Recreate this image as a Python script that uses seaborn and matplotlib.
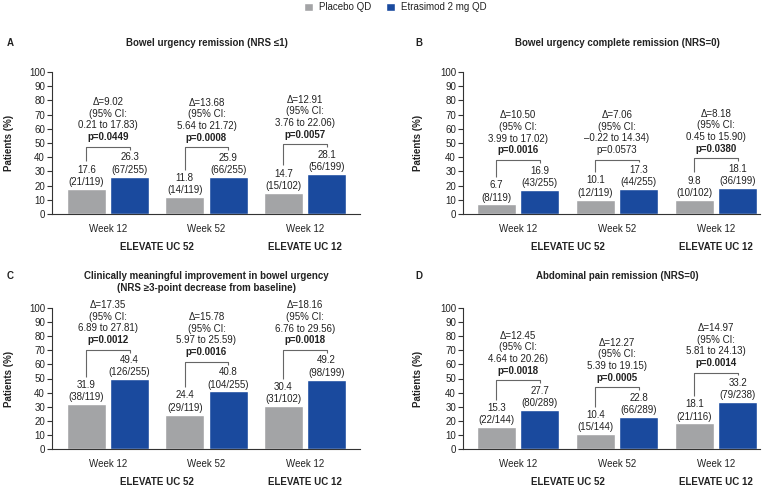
import pandas as pd
import matplotlib
matplotlib.use("Agg")
import matplotlib.pyplot as plt
from matplotlib.patches import Patch
import seaborn as sns

# categories
visits = ["Week 12", "Week 52", "Week 12"]
slots = ["UC52 W12", "UC52 W52", "UC12 W12"]
studies = ["ELEVATE UC 52", "ELEVATE UC 12"]
study_x = [0.5, 2.0]
arms = ["Placebo QD", "Etrasimod 2 mg QD"]
letters = ["A", "B", "C", "D"]
titles = [
    "Bowel urgency remission (NRS \u22641)",
    "Bowel urgency complete remission (NRS=0)",
    "Clinically meaningful improvement in bowel urgency\n(NRS \u22653-point decrease from baseline)",
    "Abdominal pain remission (NRS=0)",
]

# A
placebo_a = [17.6, 11.8, 14.7]
placebo_a_n = ["21/119", "14/119", "15/102"]
etra_a = [26.3, 25.9, 28.1]
etra_a_n = ["67/255", "66/255", "56/199"]
delta_a = ["9.02", "13.68", "12.91"]
ci_a = ["0.21 to 17.83", "5.64 to 21.72", "3.76 to 22.06"]
p_a = ["0.0449", "0.0008", "0.0057"]

# B
placebo_b = [6.7, 10.1, 9.8]
placebo_b_n = ["8/119", "12/119", "10/102"]
etra_b = [16.9, 17.3, 18.1]
etra_b_n = ["43/255", "44/255", "36/199"]
delta_b = ["10.50", "7.06", "8.18"]
ci_b = ["3.99 to 17.02", "\u20130.22 to 14.34", "0.45 to 15.90"]
p_b = ["0.0016", "0.0573", "0.0380"]

# C
placebo_c = [31.9, 24.4, 30.4]
placebo_c_n = ["38/119", "29/119", "31/102"]
etra_c = [49.4, 40.8, 49.2]
etra_c_n = ["126/255", "104/255", "98/199"]
delta_c = ["17.35", "15.78", "18.16"]
ci_c = ["6.89 to 27.81", "5.97 to 25.59", "6.76 to 29.56"]
p_c = ["0.0012", "0.0016", "0.0018"]

# D
placebo_d = [15.3, 10.4, 18.1]
placebo_d_n = ["22/144", "15/144", "21/116"]
etra_d = [27.7, 22.8, 33.2]
etra_d_n = ["80/289", "66/289", "79/238"]
delta_d = ["12.45", "12.27", "14.97"]
ci_d = ["4.64 to 20.26", "5.39 to 19.15", "5.81 to 24.13"]
p_d = ["0.0018", "0.0005", "0.0014"]

panels = [
    (placebo_a, placebo_a_n, etra_a, etra_a_n, delta_a, ci_a, p_a),
    (placebo_b, placebo_b_n, etra_b, etra_b_n, delta_b, ci_b, p_b),
    (placebo_c, placebo_c_n, etra_c, etra_c_n, delta_c, ci_c, p_c),
    (placebo_d, placebo_d_n, etra_d, etra_d_n, delta_d, ci_d, p_d),
]

GRAY = "#a3a4a6"
BLUE = "#1a4a9e"
TXT = "#222222"
AX = "#333333"

sns.set_style("white")
plt.rcParams["font.family"] = ["Liberation Sans", "DejaVu Sans"]
plt.rcParams["font.size"] = 7

W, H = 772, 488
fig = plt.figure(figsize=(W / 100, H / 100), dpi=100)

# axes boxes in pixels: left, right, top, bottom
boxes = [(52, 360, 72, 214), (463, 760, 72, 214), (52, 360, 308, 449), (463, 760, 308, 449)]
xlims = [(-0.569, 2.56), (-0.556, 2.444), (-0.569, 2.56), (-0.556, 2.444)]
title_y = [43, 43, 282, 276]
letter_y = [43, 43, 276, 276]
ylab_x = [14, 423, 14, 423]
letter_x = [7, 415, 7, 415]

for k, (pl, pl_n, et, et_n, dl, ci, pv) in enumerate(panels):
    l, r, t, b = boxes[k]
    ax = fig.add_axes([l / W, 1 - b / H, (r - l) / W, (b - t) / H])
    df = pd.DataFrame({
        "slot": slots * 2,
        "arm": [arms[0]] * 3 + [arms[1]] * 3,
        "value": pl + et,
    })
    sns.barplot(data=df, x="slot", y="value", hue="arm", order=slots, hue_order=arms,
                palette=[GRAY, BLUE], saturation=1, width=0.88, gap=0.1,
                errorbar=None, legend=False, ax=ax)
    ax.set_xlim(*xlims[k])
    ax.set_ylim(0, 100)
    ax.set_yticks(range(0, 101, 10))
    ax.set_xticks(range(3))
    ax.set_xticklabels(visits)
    ax.set_xlabel("")
    ax.set_ylabel("Patients (%)", fontsize=7, fontweight="bold", color=TXT)
    ax.yaxis.set_label_coords((ylab_x[k] - l) / (r - l), 0.5)
    ax.tick_params(axis="x", length=0, pad=7, labelsize=7, labelcolor=TXT)
    ax.tick_params(axis="y", length=3.5, width=0.8, pad=1.5, labelsize=7,
                   labelcolor=TXT, color=AX, left=True)
    sns.despine(ax=ax)
    for s in ["left", "bottom"]:
        ax.spines[s].set_color(AX)
        ax.spines[s].set_linewidth(0.8)

    # study labels under the weeks
    for name, sx in zip(studies, study_x):
        ax.annotate(name, (sx, 0), xycoords=("data", "axes fraction"),
                    xytext=(0, -24), textcoords="offset points",
                    ha="center", va="center", fontsize=7, fontweight="bold", color=TXT)

    # value labels over bars
    centers = []
    for bars, vals, ns in zip(ax.containers, [pl, et], [pl_n, et_n]):
        cx = []
        for bar, v, n in zip(bars, vals, ns):
            x = bar.get_x() + bar.get_width() / 2
            cx.append(x)
            ax.annotate(f"({n})", (x, v), xytext=(0, 5.0), textcoords="offset points",
                        ha="center", va="center", fontsize=7, color=TXT)
            ax.annotate(f"{v:.1f}", (x, v), xytext=(0, 13.8), textcoords="offset points",
                        ha="center", va="center", fontsize=7, color=TXT)
        centers.append(cx)

    # brackets with delta / CI / p
    for i in range(3):
        xl, xr = centers[0][i], centers[1][i]
        top = et[i] + 21
        ax.plot([xl, xl, xr, xr], [pl[i] + 19.5, top, top, et[i] + 19],
                color="#666666", lw=0.8, solid_capstyle="butt")
        bold = "bold" if float(pv[i]) < 0.05 else "normal"
        ax.annotate(f"p={pv[i]}", (i, top), xytext=(0, 7), textcoords="offset points",
                    ha="center", va="center", fontsize=7, fontweight=bold, color=TXT)
        for j, line in enumerate([f"{ci[i]})", "(95% CI:", f"\u0394={dl[i]}"]):
            ax.annotate(line, (i, top), xytext=(0, 7 + 8.4 * (j + 1)), textcoords="offset points",
                        ha="center", va="center", fontsize=7, color=TXT)

    # panel title and letter
    tr = matplotlib.transforms.blended_transform_factory(ax.transData, fig.transFigure)
    ax.text(1, 1 - title_y[k] / H, titles[k], transform=tr, ha="center", va="center",
            fontsize=7, fontweight="bold", color=TXT, linespacing=1.25)
    fig.text(letter_x[k] / W, 1 - letter_y[k] / H, letters[k],
             ha="left", va="center", fontsize=7, fontweight="bold", color=TXT)

handles = [Patch(facecolor=GRAY, label=arms[0]), Patch(facecolor=BLUE, label=arms[1])]
fig.legend(handles=handles, loc="center", bbox_to_anchor=(0.512, 1 - 7 / H), ncol=2,
           frameon=False, fontsize=7, handlelength=0.9, handleheight=0.9,
           handletextpad=0.6, columnspacing=1.6, labelcolor=TXT)

fig.savefig("out.png", dpi=100)
